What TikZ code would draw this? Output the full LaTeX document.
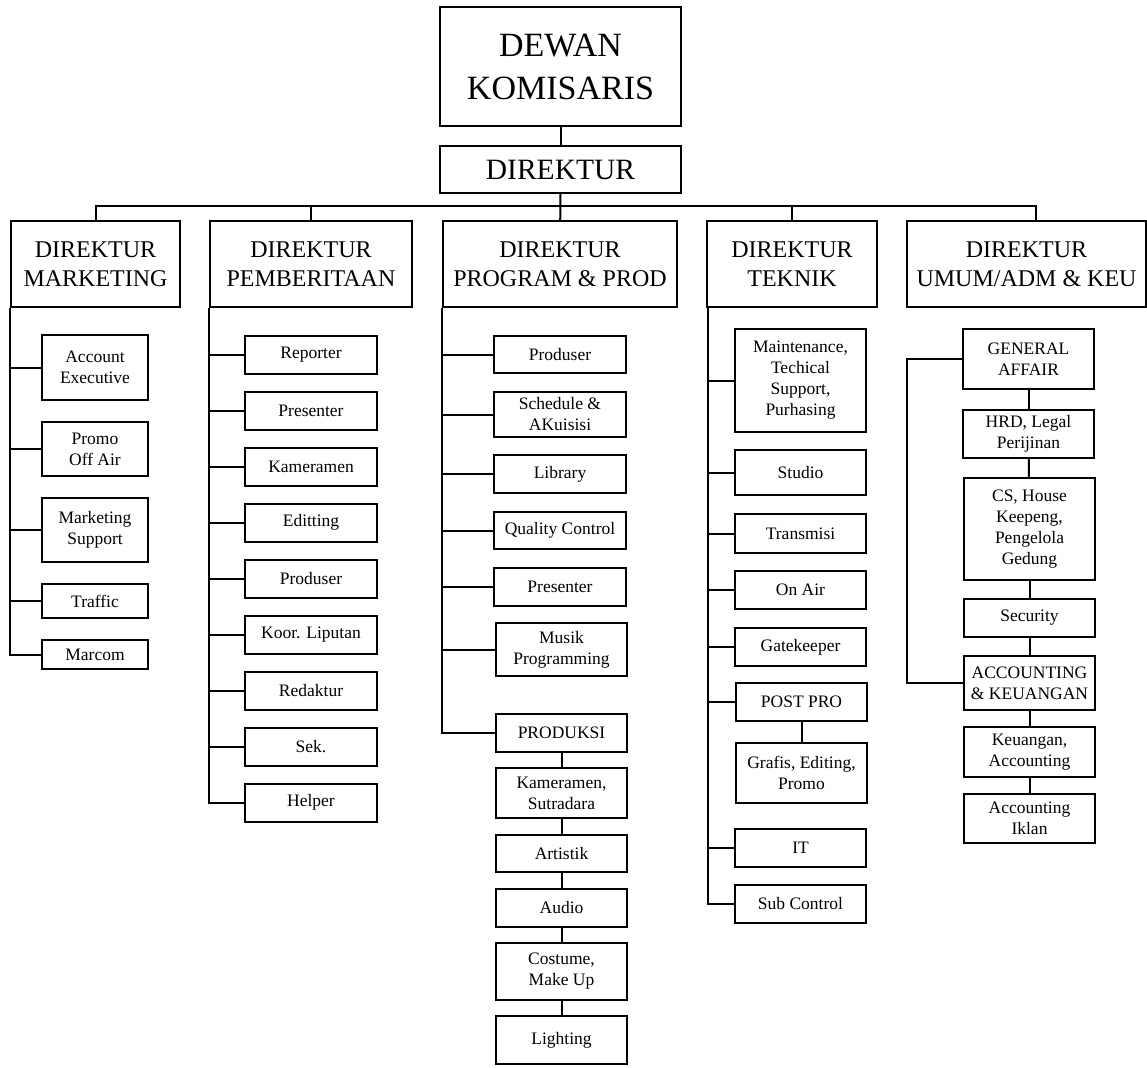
\documentclass[tikz,border=0pt]{standalone}
\usepackage{fontspec}
\setmainfont{Liberation Serif}
\usetikzlibrary{positioning}

\begin{document}
\begin{tikzpicture}[x=1pt,y=-1pt]
		\tikzset{box/.style={draw,line width=2pt,align=center,inner sep=0pt}}
		\tikzset{direksi/.style={box,font=\fontsize{24}{29}\selectfont,minimum height=86}}
		\tikzset{unit/.style={box,font=\fontsize{17.5}{21}\selectfont,minimum width=131,minimum height=38}}
		\tikzset{garis/.style={line width=2pt}}
		\useasboundingbox (0,0) rectangle (1147,1067);
		% puncak
		\node[box,font=\fontsize{34}{43}\selectfont,minimum width=241,minimum height=119] (dewan) at (560.5,66.5) {DEWAN\\KOMISARIS};
		\node[box,font=\fontsize{29.5}{35}\selectfont,minimum width=241,minimum height=47] (dirut) at (560.5,169.5) {DIREKTUR};
		% direksi
		\node[direksi,minimum width=169] (dmark) at (95.5,264) {DIREKTUR\\MARKETING};
		\node[direksi,minimum width=202] (dberita) at (311,264) {DIREKTUR\\PEMBERITAAN};
		\node[direksi,minimum width=234] (dprog) at (560,264) {DIREKTUR\\PROGRAM \& PROD};
		\node[direksi,minimum width=170] (dtek) at (792,264) {DIREKTUR\\TEKNIK};
		\node[direksi,minimum width=239] (dumum) at (1026.5,264) {DIREKTUR\\UMUM/ADM \& KEU};
		\draw[garis] (dewan) -- (dirut);
		\draw[garis] (dirut) -- (dprog);
		\draw[garis] (dmark.north) -- ++(0,-14) -| ([xshift=9.5pt]dumum.north);
		\draw[garis] (dberita.north) -- ++(0,-14);
		\draw[garis] (dtek.north) -- ++(0,-14);
		% marketing
		\node[unit,minimum width=106,minimum height=65] (ae) at (95,367.5) {Account\\Executive};
		\node[unit,minimum width=106,minimum height=54] (promo) at (95,449) {Promo\\Off Air};
		\node[unit,minimum width=106,minimum height=64] (msup) at (95,530) {Marketing\\Support};
		\node[unit,minimum width=106,minimum height=34] (traffic) at (95,601) {Traffic};
		\node[unit,minimum width=106,minimum height=29] (marcom) at (95,654.5) {Marcom};
		\draw[garis] (dmark.south west) |- (marcom.west);
		\draw[garis] (ae.west) -- (ae.west -| dmark.south west);
		\draw[garis] (promo.west) -- (promo.west -| dmark.south west);
		\draw[garis] (msup.west) -- (msup.west -| dmark.south west);
		\draw[garis] (traffic.west) -- (traffic.west -| dmark.south west);
		% pemberitaan
		\node[unit,minimum width=132] (reporter) at (311,354.5) {Reporter};
		\node[unit,minimum width=132] (presenterb) at (311,410.5) {Presenter};
		\node[unit,minimum width=132] (kameramen) at (311,466.5) {Kameramen};
		\node[unit,minimum width=132] (editting) at (311,522.5) {Editting};
		\node[unit,minimum width=132] (produserb) at (311,578.5) {Produser};
		\node[unit,minimum width=132] (koor) at (311,634.5) {Koor. Liputan};
		\node[unit,minimum width=132] (redaktur) at (311,690.5) {Redaktur};
		\node[unit,minimum width=132] (sek) at (311,746.5) {Sek.};
		\node[unit,minimum width=132] (helper) at (311,802.5) {Helper};
		\draw[garis] (dberita.south west) |- (helper.west);
		\draw[garis] (reporter.west) -- (reporter.west -| dberita.south west);
		\draw[garis] (presenterb.west) -- (presenterb.west -| dberita.south west);
		\draw[garis] (kameramen.west) -- (kameramen.west -| dberita.south west);
		\draw[garis] (editting.west) -- (editting.west -| dberita.south west);
		\draw[garis] (produserb.west) -- (produserb.west -| dberita.south west);
		\draw[garis] (koor.west) -- (koor.west -| dberita.south west);
		\draw[garis] (redaktur.west) -- (redaktur.west -| dberita.south west);
		\draw[garis] (sek.west) -- (sek.west -| dberita.south west);
		% program & produksi
		\node[unit,minimum width=132,minimum height=37] (produserp) at (560,354.5) {Produser};
		\node[unit,minimum width=132,minimum height=45] (schedule) at (560,414.5) {Schedule \&\\AKuisisi};
		\node[unit,minimum width=132] (library) at (560,474) {Library};
		\node[unit,minimum width=132,minimum height=37] (qc) at (560,530.5) {Quality Control};
		\node[unit,minimum width=132] (presenterp) at (560,587) {Presenter};
		\node[unit,minimum height=53] (musik) at (561.5,649.5) {Musik\\Programming};
		\node[unit] (produksi) at (561.5,733) {PRODUKSI};
		\node[unit,minimum height=50] (sutradara) at (561.5,793) {Kameramen,\\Sutradara};
		\node[unit,minimum height=37] (artistik) at (561.5,853.5) {Artistik};
		\node[unit] (audio) at (561.5,908) {Audio};
		\node[unit,minimum height=57] (costume) at (561.5,971.5) {Costume,\\Make Up};
		\node[unit,minimum height=48] (lighting) at (561.5,1040) {Lighting};
		\draw[garis] (dprog.south west) |- (produksi.west);
		\draw[garis] (produserp.west) -- (produserp.west -| dprog.south west);
		\draw[garis] (schedule.west) -- (schedule.west -| dprog.south west);
		\draw[garis] (library.west) -- (library.west -| dprog.south west);
		\draw[garis] (qc.west) -- (qc.west -| dprog.south west);
		\draw[garis] (presenterp.west) -- (presenterp.west -| dprog.south west);
		\draw[garis] (musik.west) -- (musik.west -| dprog.south west);
		\draw[garis] (produksi) -- (sutradara);
		\draw[garis] (sutradara) -- (artistik);
		\draw[garis] (artistik) -- (audio);
		\draw[garis] (audio) -- (costume);
		\draw[garis] (costume) -- (lighting);
		% teknik
		\coordinate (teks) at ([xshift=2pt]dtek.south west);
		\node[unit,minimum height=103] (maint) at (800.5,380.5) {Maintenance,\\Techical\\Support,\\Purhasing};
		\node[unit,minimum height=45] (studio) at (800.5,472.5) {Studio};
		\node[unit,minimum height=39] (transmisi) at (800.5,533.5) {Transmisi};
		\node[unit] (onair) at (800.5,590) {On Air};
		\node[unit] (gatekeeper) at (800.5,647) {Gatekeeper};
		\node[unit] (postpro) at (801.5,702) {POST PRO};
		\node[unit,minimum height=60] (grafis) at (801.5,773) {Grafis, Editing,\\Promo};
		\node[unit] (it) at (800.5,848) {IT};
		\node[unit] (subcon) at (800.5,904) {Sub Control};
		\draw[garis] (teks) |- (subcon.west);
		\draw[garis] (maint.west) -- (maint.west -| teks);
		\draw[garis] (studio.west) -- (studio.west -| teks);
		\draw[garis] (transmisi.west) -- (transmisi.west -| teks);
		\draw[garis] (onair.west) -- (onair.west -| teks);
		\draw[garis] (gatekeeper.west) -- (gatekeeper.west -| teks);
		\draw[garis] (postpro.west) -- (postpro.west -| teks);
		\draw[garis] (it.west) -- (it.west -| teks);
		\draw[garis] (postpro) -- (grafis);
		% umum, adm & keuangan
		\node[unit,minimum height=60] (ga) at (1028.5,359) {GENERAL\\AFFAIR};
		\node[unit,minimum height=48] (hrd) at (1028.5,434) {HRD, Legal\\Perijinan};
		\node[unit,minimum height=102] (cs) at (1029.5,529) {CS, House\\Keepeng,\\Pengelola\\Gedung};
		\node[unit] (security) at (1029.5,618) {Security};
		\node[unit,minimum height=54] (acc) at (1029.5,683) {ACCOUNTING\\\& KEUANGAN};
		\node[unit,minimum height=50] (keu) at (1029.5,752) {Keuangan,\\Accounting};
		\node[unit,minimum height=49] (iklan) at (1029.5,818.5) {Accounting\\Iklan};
		\draw[garis] (ga.west) -- ++(-55,0) |- (acc.west);
		\draw[garis] (ga) -- (hrd);
		\draw[garis] (hrd) -- (cs);
		\draw[garis] (cs) -- (security);
		\draw[garis] (security) -- (acc);
		\draw[garis] (acc) -- (keu);
		\draw[garis] (keu) -- (iklan);
	\end{tikzpicture}
\end{document}
